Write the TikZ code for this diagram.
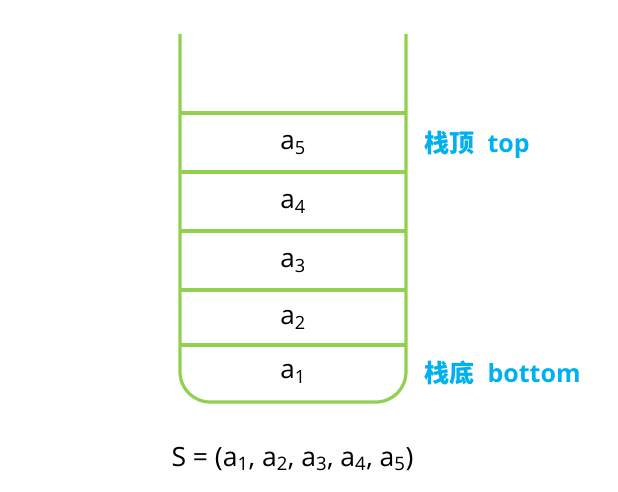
\documentclass[tikz,border=0pt]{standalone}
\usepackage{fontspec}
\setmainfont{Open Sans}
\newfontfamily\cjk{Noto Sans CJK SC}
\definecolor{stackgreen}{HTML}{92D050}
\definecolor{labelblue}{HTML}{00B0F0}
\begin{document}
\begin{tikzpicture}[x=1pt,y=-1pt,
  wall/.style={draw=stackgreen,line width=3.2pt},
  cell/.style={font=\fontsize{26}{29}\selectfont,text=black,anchor=center},
  seqtext/.style={font=\fontsize{26.5}{30}\selectfont,text=black,anchor=west},
  lbl/.style={font=\fontsize{25}{28}\selectfont\bfseries,text=labelblue,anchor=west}]
\useasboundingbox (0,0) rectangle (618,492);
% stack outline
\draw[wall,rounded corners=30pt] (180,34) -- (180,402) -- (406,402) -- (406,34);
\foreach \yy in {113,172,231,290,345} \draw[wall] (180,\yy) -- (406,\yy);
% cells
\node[cell] (a5) at (293,145) {a\textsubscript{5}};
\node[cell] (a4) at (293,204) {a\textsubscript{4}};
\node[cell] (a3) at (293,263) {a\textsubscript{3}};
\node[cell] (a2) at (293,320) {a\textsubscript{2}};
\node[cell] (a1) at (293,374) {a\textsubscript{1}};
% labels
\node[lbl] (top) at (421,145) {{\cjk\bfseries 栈顶}\ \ top};
\node[lbl] (bottom) at (421,373) {{\cjk\bfseries 栈底}\ \ bottom};
% sequence
\node[seqtext] (seq) at (168,459) {S = (a\textsubscript{1}, a\textsubscript{2}, a\textsubscript{3}, a\textsubscript{4}, a\textsubscript{5})};
\end{tikzpicture}
\end{document}
